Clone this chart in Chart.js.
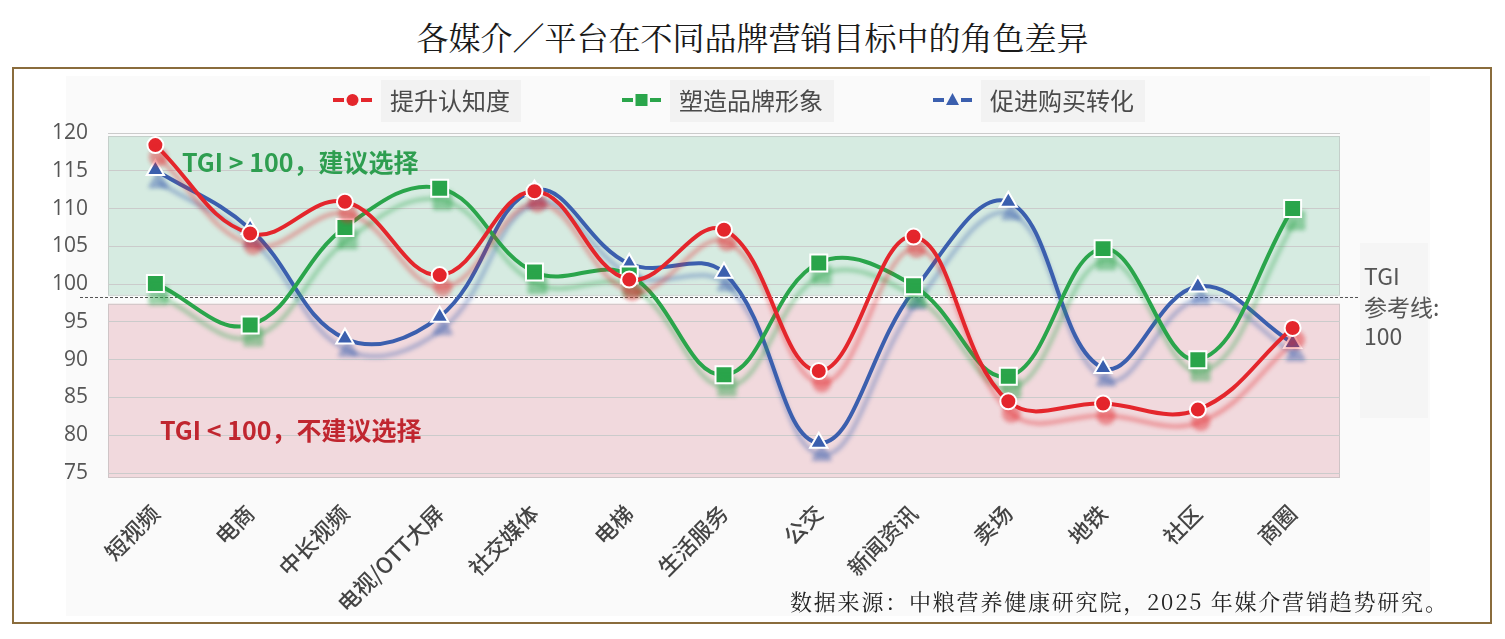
<!DOCTYPE html>
<html lang="zh-CN">
<head>
<meta charset="utf-8">
<title>各媒介／平台在不同品牌营销目标中的角色差异</title>
<script src="https://cdn.jsdelivr.net/npm/chart.js@4.4.1/dist/chart.umd.min.js"></script>
<style>
  html, body { margin: 0; padding: 0; background: #fff; }
  body { width: 1505px; height: 639px; position: relative; overflow: hidden; }
  .title { position: absolute; left: 0; top: 16px; width: 1505px; text-align: center;
           font: 32px "Noto Serif CJK SC", "Noto Sans CJK SC", serif; color: #1a1a1a; line-height: 40px; }
  .frame { position: absolute; left: 12px; top: 67px; width: 1476px; height: 553px; border: 2px solid #8a6c3c; }
  .paper { position: absolute; left: 66px; top: 76px; width: 1364px; height: 540px; background: #fafafa; }
  canvas { position: absolute; left: 0; top: 0; }
  .source { position: absolute; left: 790px; top: 585px; line-height: 30px; letter-spacing: 1.8px;
            font: 22px "Noto Serif CJK SC", "Noto Sans CJK SC", serif; color: #222; }
</style>
</head>
<body>
<div class="title">各媒介／平台在不同品牌营销目标中的角色差异</div>
<div class="frame"></div>
<div class="paper"></div>
<canvas id="chart" width="1505" height="639"></canvas>
<div class="source">数据来源：中粮营养健康研究院，2025 年媒介营销趋势研究。</div>
<script>
// 媒介 / 平台
const categories = ['短视频', '电商', '中长视频', '电视/OTT大屏', '社交媒体', '电梯', '生活服务', '公交', '新闻资讯', '卖场', '地铁', '社区', '商圈'];
const seriesNames = ['提升认知度', '塑造品牌形象', '促进购买转化'];

// TGI 数值
const awareness  = [118.4, 106.7, 110.9, 101.2, 112.3, 100.6, 107.2, 88.5, 106.3, 84.5, 84.2, 83.4, 94.2];
const brandImage = [100.1, 94.6, 107.5, 112.7, 101.6, 101.2, 88.0, 102.8, 99.8, 87.8, 104.7, 90.0, 110.0];
const conversion = [115.1, 107.3, 92.8, 95.7, 112.4, 102.7, 101.5, 79.0, 99.1, 110.9, 88.9, 99.7, 92.2];

const yTicks = [75, 80, 85, 90, 95, 100, 105, 110, 115, 120];

const COLORS = ['#e4262c', '#2aa54b', '#3b5fae'];
const SHADOWS = ['rgba(228,38,44,0.42)', 'rgba(42,165,75,0.42)', 'rgba(59,95,174,0.42)'];
const CJK = '"Noto Sans CJK SC", "Microsoft YaHei", sans-serif';

// 背景色带 + 参考线 + 注释文字
const bandsPlugin = {
    id: 'bands',
    beforeDraw(chart) {
        const { ctx, chartArea: a, scales: { y } } = chart;
        ctx.save();
        // 建议选择区（绿色）
        const gTop = y.getPixelForValue(119.6), gBot = y.getPixelForValue(98.6);
        ctx.fillStyle = '#d6ebe1';
        ctx.fillRect(a.left, gTop, a.right - a.left, gBot - gTop);
        ctx.strokeStyle = '#c4cfca';
        ctx.lineWidth = 1;
        ctx.strokeRect(a.left + 0.5, gTop + 0.5, a.right - a.left - 1, gBot - gTop);
        // 不建议选择区（红色）
        const rTop = y.getPixelForValue(97.4), rBot = a.bottom;
        ctx.fillStyle = '#f1d9dd';
        ctx.fillRect(a.left, rTop, a.right - a.left, rBot - rTop);
        ctx.strokeStyle = '#cfc4c6';
        ctx.strokeRect(a.left + 0.5, rTop + 0.5, a.right - a.left - 1, rBot - rTop - 1);
        ctx.restore();
    },
    beforeDatasetsDraw(chart) {
        const { ctx, chartArea: a, scales: { y } } = chart;
        ctx.save();
        // TGI 参考线
        const ry = Math.round(y.getPixelForValue(98.3)) + 0.5;
        ctx.strokeStyle = '#555';
        ctx.lineWidth = 1;
        ctx.setLineDash([3, 2]);
        ctx.beginPath();
        ctx.moveTo(80, ry);
        ctx.lineTo(1362, ry);
        ctx.stroke();
        ctx.setLineDash([]);
        // 区域说明
        ctx.font = 'bold 25px ' + CJK;
        ctx.textBaseline = 'middle';
        ctx.fillStyle = '#2e9e50';
        ctx.fillText('TGI > 100，建议选择', a.left + 74, y.getPixelForValue(116.1));
        ctx.fillStyle = '#c0262f';
        ctx.fillText('TGI < 100，不建议选择', a.left + 52, y.getPixelForValue(80.6));
        ctx.restore();
    },
    afterDraw(chart) {
        const { ctx } = chart;
        ctx.save();
        // 右侧参考线说明
        ctx.fillStyle = '#f5f5f5';
        ctx.fillRect(1360, 243, 68, 175);
        ctx.fillStyle = '#555';
        ctx.font = '23px ' + CJK;
        ctx.textBaseline = 'middle';
        ctx.fillText('TGI', 1364, 276);
        ctx.fillText('参考线:', 1364, 307);
        ctx.fillText('100', 1364, 336);

        // 图例
        const legendX = [333, 622, 933];
        chart.data.datasets.forEach((ds, i) => {
            const x0 = legendX[i], ly = 100;
            ctx.font = '24px ' + CJK;
            const tw = ctx.measureText(ds.label).width;
            ctx.fillStyle = '#f2f2f2';
            ctx.fillRect(x0 + 48, ly - 20, tw + 20, 42);
            ctx.fillStyle = '#4a4a4a';
            ctx.fillText(ds.label, x0 + 57, ly + 1);
            ctx.strokeStyle = ds.borderColor;
            ctx.lineWidth = 4;
            ctx.beginPath();
            ctx.moveTo(x0, ly); ctx.lineTo(x0 + 11, ly);
            ctx.moveTo(x0 + 28, ly); ctx.lineTo(x0 + 39, ly);
            ctx.stroke();
            ctx.fillStyle = ds.borderColor;
            ctx.beginPath();
            if (ds.pointStyle === 'circle') ctx.arc(x0 + 19.5, ly, 6, 0, Math.PI * 2);
            else if (ds.pointStyle === 'rect') ctx.rect(x0 + 13.5, ly - 6, 12, 12);
            else { ctx.moveTo(x0 + 19.5, ly - 7); ctx.lineTo(x0 + 26, ly + 5); ctx.lineTo(x0 + 13, ly + 5); ctx.closePath(); }
            ctx.fill();
        });
        ctx.restore();
    }
};

// 线条阴影
const shadowPlugin = {
    id: 'lineShadow',
    beforeDatasetDraw(chart, args) {
        const ctx = chart.ctx;
        ctx.save();
        ctx.shadowColor = SHADOWS[args.index];
        ctx.shadowBlur = 4;
        ctx.shadowOffsetX = 3;
        ctx.shadowOffsetY = 12;
    },
    afterDatasetDraw(chart) {
        chart.ctx.restore();
    }
};

function makeSeries(label, data, i, style, radius) {
    return {
        label: label,
        data: data,
        borderColor: COLORS[i],
        backgroundColor: COLORS[i],
        borderWidth: 4,
        tension: 0.4,
        pointStyle: style,
        pointRadius: radius,
        pointHoverRadius: radius,
        pointBorderColor: '#fff',
        pointBorderWidth: 2,
        pointBackgroundColor: COLORS[i]
    };
}

new Chart(document.getElementById('chart'), {
    type: 'line',
    data: {
        labels: categories,
        datasets: [
            makeSeries(seriesNames[0], awareness, 0, 'circle', 8),
            makeSeries(seriesNames[1], brandImage, 1, 'rect', 12),
            makeSeries(seriesNames[2], conversion, 2, 'triangle', 10)
        ]
    },
    options: {
        responsive: false,
        animation: false,
        layout: { padding: { top: 133, left: 0, right: 165, bottom: 0 } },
        plugins: {
            legend: { display: false },
            title: { display: false },
            tooltip: { enabled: false }
        },
        scales: {
            x: {
                offset: true,
                grid: { display: false, drawTicks: false },
                border: { display: false },
                ticks: {
                    minRotation: 45,
                    maxRotation: 45,
                    padding: 22,
                    color: '#444',
                    font: { family: CJK, size: 22, weight: '500' }
                },
                afterFit(scale) { scale.height = 161; }
            },
            y: {
                min: 74.35,
                max: 120,
                grid: { color: '#cbcbcb', lineWidth: 1, drawTicks: false },
                border: { display: false },
                ticks: {
                    padding: 20,
                    color: '#555',
                    font: { family: '"Open Sans", sans-serif', size: 21 }
                },
                afterBuildTicks(scale) { scale.ticks = yTicks.map(v => ({ value: v })); },
                afterFit(scale) { scale.width = 108; }
            }
        }
    },
    plugins: [bandsPlugin, shadowPlugin]
});
</script>
</body>
</html>
